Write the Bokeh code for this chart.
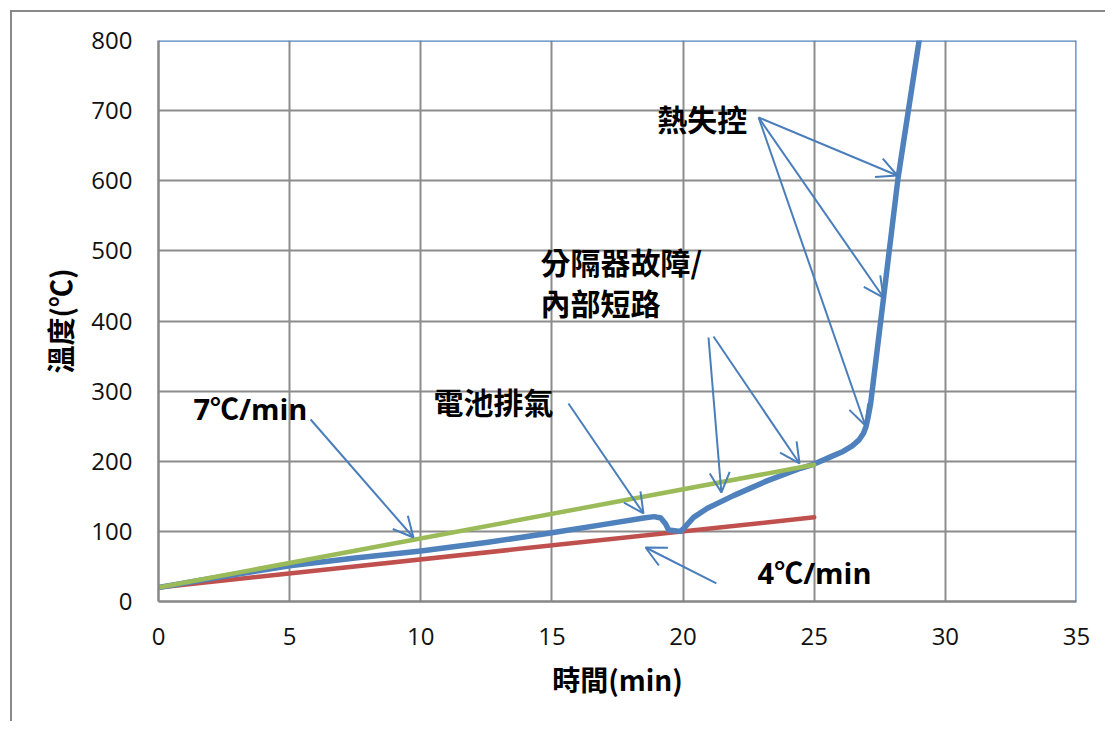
from bokeh.plotting import figure
from bokeh.models import (Range1d, SingleIntervalTicker, Arrow, OpenHead, Label, Span)
from bokeh.embed import file_html
from bokeh.resources import INLINE

# ---------------- data ----------------
# measured battery temperature curve (min, °C)
time_cell = [0, 2.5, 5, 7.5, 10, 12.5, 15, 17, 18.5, 18.9, 19.15, 19.33, 19.45,
             19.9, 20.02, 20.4, 20.93, 21.92, 23.2, 24.48, 25, 25.73, 26.1,
             26.45, 26.7, 26.88, 26.98, 27.05, 27.15, 27.65, 28.2, 29.0]
temp_cell = [20, 36, 51, 62, 72, 84, 98, 110, 119, 121, 119, 111, 102,
             100, 104, 120, 133, 151, 172, 190, 196, 208, 214,
             222, 230, 240, 250, 262, 282, 435, 605, 800]
# reference heating-rate lines
time_ref = [0, 25]
temp_7 = [20, 195]   # 7 °C/min
temp_4 = [20, 120]   # 4 °C/min

x_label = "時間(min)"
y_label = "溫度(℃)"

# annotation texts
txt_7 = "7℃/min"
txt_4 = "4℃/min"
txt_vent = "電池排氣"
txt_sep1 = "分隔器故障/"
txt_sep2 = "內部短路"
txt_tr = "熱失控"

# ---------------- styles ----------------
BLUE = "#4F81BD"
RED = "#C0504D"
GREEN = "#9BBB59"
ARROW = "#4A7EBB"
GRID = "#8C8C8C"

p = figure(width=1105, height=721, output_backend="svg", toolbar_location=None,
           x_range=Range1d(0, 35), y_range=Range1d(0, 800),
           min_border_left=158, min_border_right=29, min_border_top=40,
           min_border_bottom=120, background_fill_color="white",
           border_fill_color=None)
p.outline_line_color = None
# outer chart-area border (left and top edges visible)
p.styles = {
    "background": ("linear-gradient(#898989,#898989) 10px 10px / 2px 100% no-repeat, "
                   "linear-gradient(#898989,#898989) 10px 10px / 100% 2px no-repeat, white")
}

for ax in (p.xaxis[0], p.yaxis[0]):
    ax.axis_line_color = "#868686"
    ax.axis_line_width = 2.5
    ax.major_tick_line_color = None
    ax.minor_tick_line_color = None
    ax.major_tick_out = 0
    ax.major_tick_in = 0
    ax.major_label_text_font = "Open Sans"
    ax.major_label_text_font_size = "24px"
    ax.major_label_text_color = "#111111"
    ax.major_label_standoff = 22
    ax.axis_label_text_font = "Noto Sans CJK TC"
    ax.axis_label_text_font_style = "bold"
    ax.axis_label_text_font_size = "28px"
    ax.axis_label_text_color = "#000000"

p.xaxis.ticker = SingleIntervalTicker(interval=5)
p.yaxis.ticker = SingleIntervalTicker(interval=100)
p.xaxis.axis_label = x_label
p.yaxis.axis_label = y_label
p.xaxis.axis_label_standoff = 11
p.yaxis.axis_label_standoff = 8

p.xgrid.ticker = SingleIntervalTicker(interval=5)
p.ygrid.ticker = SingleIntervalTicker(interval=100)
for g in (p.xgrid[0], p.ygrid[0]):
    g.grid_line_color = GRID
    g.grid_line_width = 2

# blue top/right frame
p.add_layout(Span(location=800, dimension="width", line_color=BLUE, line_width=2.5))
p.add_layout(Span(location=35, dimension="height", line_color=BLUE, line_width=2.5))

p.line(time_ref, temp_4, line_color=RED, line_width=4.5, line_cap="round")
p.line(time_cell, temp_cell, line_color=BLUE, line_width=5.5, line_cap="round",
       line_join="round")
p.line(time_ref, temp_7, line_color=GREEN, line_width=4.5, line_cap="round")

# ---------------- annotations ----------------
def arrow(x0, y0, x1, y1):
    p.add_layout(Arrow(x_start=x0, y_start=y0, x_end=x1, y_end=y1,
                       line_color=ARROW, line_width=2,
                       end=OpenHead(size=20, line_color=ARROW, line_width=2)))

arrow(5.80, 259.5, 9.72, 91.3)
arrow(15.63, 282.4, 18.49, 125.5)
arrow(20.97, 376.5, 21.46, 155.4)
arrow(21.16, 377.9, 24.44, 196.8)
arrow(22.88, 690.2, 28.17, 607.5)
arrow(22.88, 690.2, 27.64, 433.5)
arrow(22.88, 690.2, 26.95, 251.0)
arrow(21.27, 25.7, 18.57, 77.0)

def label(x, y, t, font, size):
    p.add_layout(Label(x=x, y=y, text=t, text_font=font, text_font_style="bold",
                       text_font_size=size, text_color="#000000",
                       text_align="left", text_baseline="middle"))

CJK = "Noto Sans CJK TC"
LAT = "'Open Sans', 'Noto Sans CJK TC'"
label(1.33, 275, txt_7, LAT, "29px")
label(22.84, 42, txt_4, LAT, "29px")
label(10.48, 286.6, txt_vent, CJK, "30px")
label(14.56, 486, txt_sep1, CJK, "30px")
label(14.56, 426.4, txt_sep2, CJK, "30px")
label(19.02, 688.8, txt_tr, CJK, "30px")

open("out.html", "w").write(file_html(p, INLINE))
